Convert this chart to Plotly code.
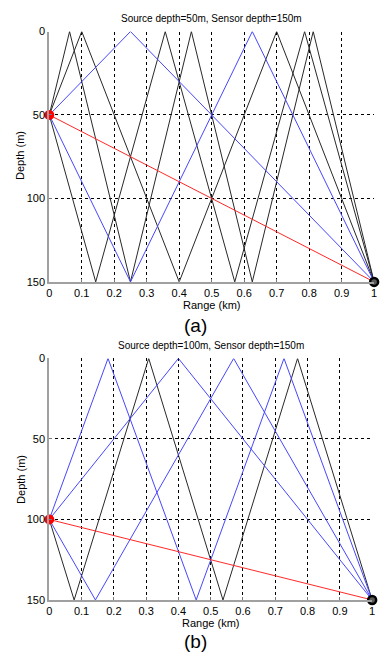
import plotly.graph_objects as go

W, H = 384, 658

# ---- data ----
range_ticks = [0, 0.1, 0.2, 0.3, 0.4, 0.5, 0.6, 0.7, 0.8, 0.9, 1]
range_tick_labels = ["0", "0.1", "0.2", "0.3", "0.4", "0.5", "0.6", "0.7", "0.8", "0.9", "1"]
depth_ticks = [0, 50, 100, 150]

# panel (a): source 50 m, sensor 150 m
a_source_depth = 50
a_sensor_range = 1
a_sensor_depth = 150
a_ray_ranges = [
    [0, 0.1, 0.4, 0.7, 1],
    [0, 0.143, 0.357, 0.571, 0.786, 1],
    [0, 0.0625, 0.25, 0.4375, 0.625, 0.8125, 1],
    [0, 0.25, 1],
    [0, 0.25, 0.625, 1],
    [0, 1],
]
a_ray_depths = [
    [50, 0, 150, 0, 150],
    [50, 150, 0, 150, 0, 150],
    [50, 0, 150, 0, 150, 0, 150],
    [50, 0, 150],
    [50, 150, 0, 150],
    [50, 150],
]
a_ray_colors = ["black", "black", "black", "blue", "blue", "red"]

# panel (b): source 100 m, sensor 150 m
b_source_depth = 100
b_sensor_range = 1
b_sensor_depth = 150
b_ray_ranges = [
    [0, 0.077, 0.308, 0.538, 0.769, 1],
    [0, 0.4, 1],
    [0, 0.143, 0.571, 1],
    [0, 0.182, 0.455, 0.727, 1],
    [0, 1],
]
b_ray_depths = [
    [100, 150, 0, 150, 0, 150],
    [100, 0, 150],
    [100, 150, 0, 150],
    [100, 0, 150, 0, 150],
    [100, 150],
]
b_ray_colors = ["black", "blue", "blue", "blue", "red"]

titles = ["Source depth=50m, Sensor depth=150m", "Source depth=100m, Sensor depth=150m"]
panel_labels = ["(a)", "(b)"]

color_map = {"black": "rgb(40,40,40)", "blue": "rgb(70,70,255)", "red": "rgb(255,40,40)"}

FONT = "Liberation Sans, Arial, sans-serif"

fig = go.Figure()


def px_x(p):
    return p / W


def px_y(p):
    return 1 - p / H


panels = [
    dict(xa="x", ya="y", ranges=a_ray_ranges, depths=a_ray_depths, colors=a_ray_colors,
         src=a_source_depth, sr=a_sensor_range, sd=a_sensor_depth,
         xdom=[px_x(47), px_x(377)], ydom=[px_y(281), px_y(26)],
         title_y=13, xlabel_y=305, plabel_y=325, ylabel_y=152),
    dict(xa="x2", ya="y2", ranges=b_ray_ranges, depths=b_ray_depths, colors=b_ray_colors,
         src=b_source_depth, sr=b_sensor_range, sd=b_sensor_depth,
         xdom=[px_x(47), px_x(375)], ydom=[px_y(605), px_y(359)],
         title_y=346, xlabel_y=628, plabel_y=647, ylabel_y=482),
]

for i, p in enumerate(panels):
    for xs, zs, c in zip(p["ranges"], p["depths"], p["colors"]):
        fig.add_trace(go.Scatter(x=xs, y=zs, mode="lines",
                                 line=dict(color=color_map[c], width=1),
                                 xaxis=p["xa"], yaxis=p["ya"], showlegend=False,
                                 hoverinfo="skip"))
    fig.add_trace(go.Scatter(x=[0], y=[p["src"]], mode="markers",
                             marker=dict(color="red", size=10, line=dict(width=0)),
                             xaxis=p["xa"], yaxis=p["ya"], showlegend=False,
                             cliponaxis=False))
    fig.add_trace(go.Scatter(x=[p["sr"]], y=[p["sd"]], mode="markers",
                             marker=dict(color="rgb(90,90,90)", size=8,
                                         line=dict(color="black", width=2.5)),
                             xaxis=p["xa"], yaxis=p["ya"], showlegend=False,
                             cliponaxis=False))

    suffix = "" if i == 0 else "2"
    axis_common = dict(showgrid=True, gridcolor="black", griddash="dot", gridwidth=1,
                       zeroline=False, showline=True, linecolor="rgb(160,160,160)",
                       linewidth=2, ticks="inside", ticklen=3, tickcolor="rgb(120,120,120)",
                       tickfont=dict(family=FONT, size=11, color="black"))
    fig.layout["xaxis" + suffix] = dict(
        axis_common, domain=p["xdom"], range=[0, 1], tickvals=range_ticks,
        ticktext=range_tick_labels, anchor="y" + suffix, ticklabelstandoff=0)
    fig.layout["yaxis" + suffix] = dict(
        axis_common, domain=p["ydom"], range=[150, 0], tickvals=depth_ticks,
        anchor="x" + suffix, ticklabelstandoff=0)

    cx = (p["xdom"][0] + p["xdom"][1]) / 2
    fig.add_annotation(text=titles[i], x=cx, y=px_y(p["title_y"]), xref="paper", yref="paper",
                       showarrow=False, font=dict(family=FONT, size=10, color="black"),
                       xanchor="center", yanchor="middle")
    fig.add_annotation(text="Range (km)", x=cx, y=px_y(p["xlabel_y"]), xref="paper", yref="paper",
                       showarrow=False, font=dict(family=FONT, size=11, color="black"),
                       xanchor="center", yanchor="middle")
    fig.add_annotation(text=panel_labels[i], x=px_x(196), y=px_y(p["plabel_y"]), xref="paper",
                       yref="paper", showarrow=False,
                       font=dict(family=FONT, size=19, color="black"),
                       xanchor="center", yanchor="middle")
    fig.add_annotation(text="Depth (m)", x=px_x(18), y=px_y(p["ylabel_y"]), xref="paper",
                       yref="paper", showarrow=False, textangle=-90,
                       font=dict(family=FONT, size=11, color="black"),
                       xanchor="center", yanchor="middle")

fig.update_layout(width=W, height=H, margin=dict(l=0, r=0, t=0, b=0),
                  paper_bgcolor="white", plot_bgcolor="white")

fig.write_html("out.html")
